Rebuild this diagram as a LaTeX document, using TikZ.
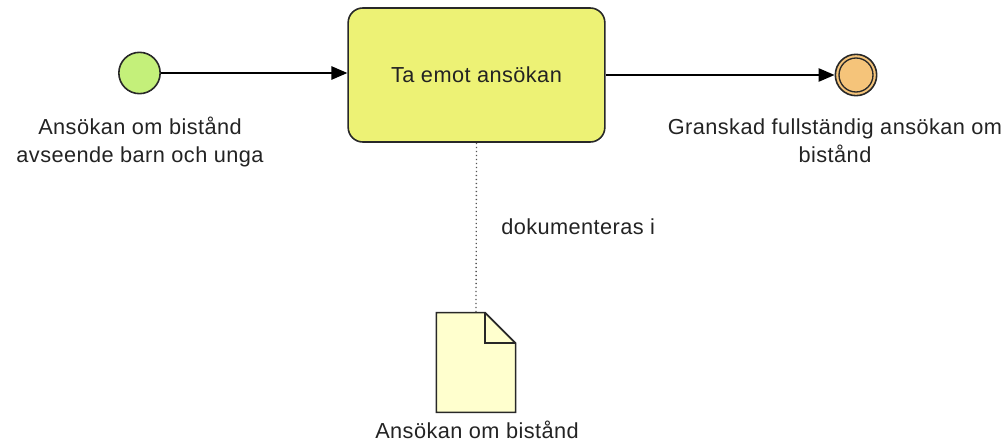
\documentclass[tikz,border=0pt]{standalone}
\usepackage{fontspec}
\setmainfont{Liberation Sans}[LetterSpace=2]
\usetikzlibrary{arrows.meta}
\definecolor{startfill}{RGB}{196,240,122}
\definecolor{taskfill}{RGB}{237,242,117}
\definecolor{endfill}{RGB}{245,196,122}
\definecolor{docfill}{RGB}{255,255,206}
\definecolor{edge}{RGB}{40,40,40}
\definecolor{txt}{RGB}{35,35,35}
\begin{document}
\begin{tikzpicture}[x=0.75pt,y=-0.75pt,
  lbl/.style={font=\fontsize{16.3pt}{21pt}\selectfont, text=txt, align=center, inner sep=0pt},
  evstart/.style={circle, draw=edge, line width=1.2pt, fill=startfill, minimum size=31pt, inner sep=0pt},
  evend/.style={circle, draw=edge, line width=1.2pt, fill=endfill, minimum size=31pt, inner sep=0pt},
  task/.style={rectangle, rounded corners=11pt, draw=edge, line width=1.2pt, fill=taskfill, minimum width=192.5pt, minimum height=100.5pt, inner sep=0pt},
  flow/.style={draw=black, line width=1.3pt, -{Triangle[length=12pt,width=10pt]}},
  assoc/.style={draw=edge!80, line width=1pt, dotted}
]
\useasboundingbox (0,0) rectangle (1005,442);
\node[evstart] (start) at (139.5,73) {};
\node[task] (task) at (476.5,75) {};
\node[lbl] at (task.center) {Ta emot ansökan};
\node[evend] (end) at (856,75) {};
\node[circle, draw=edge, line width=1pt, minimum size=25.5pt, inner sep=0pt] (endin) at (end.center) {};
\node[rectangle, minimum width=59pt, minimum height=74.5pt, inner sep=0pt] (doc) at (476,362.5) {};
\draw[draw=edge, line width=1.2pt, fill=docfill, line join=miter]
  (doc.north west) -- ([xshift=-23pt]doc.north east) -- ([yshift=-23pt]doc.north east)
  -- (doc.south east) -- (doc.south west) -- cycle;
\draw[draw=edge, line width=1.2pt, line join=miter]
  ([xshift=-23pt]doc.north east) -- ([xshift=-23pt,yshift=-23pt]doc.north east) -- ([yshift=-23pt]doc.north east);

\draw[flow] (start.east) -- (start.east -| task.west);
\draw[flow] (task.east) -- (end.west);
\draw[assoc] (task.south) -- (doc.north);

\node[lbl] (startlbl) at (140,142) {Ansökan om bistånd\\avseende barn och unga};
\node[lbl] (endlbl) at (835,141) {Granskad fullständig ansökan om\\bistånd};
\node[lbl, anchor=west] (assoclbl) at (501,227) {dokumenteras i};
\node[lbl] (doclbl) at (477,430) {Ansökan om bistånd};
\end{tikzpicture}
\end{document}
